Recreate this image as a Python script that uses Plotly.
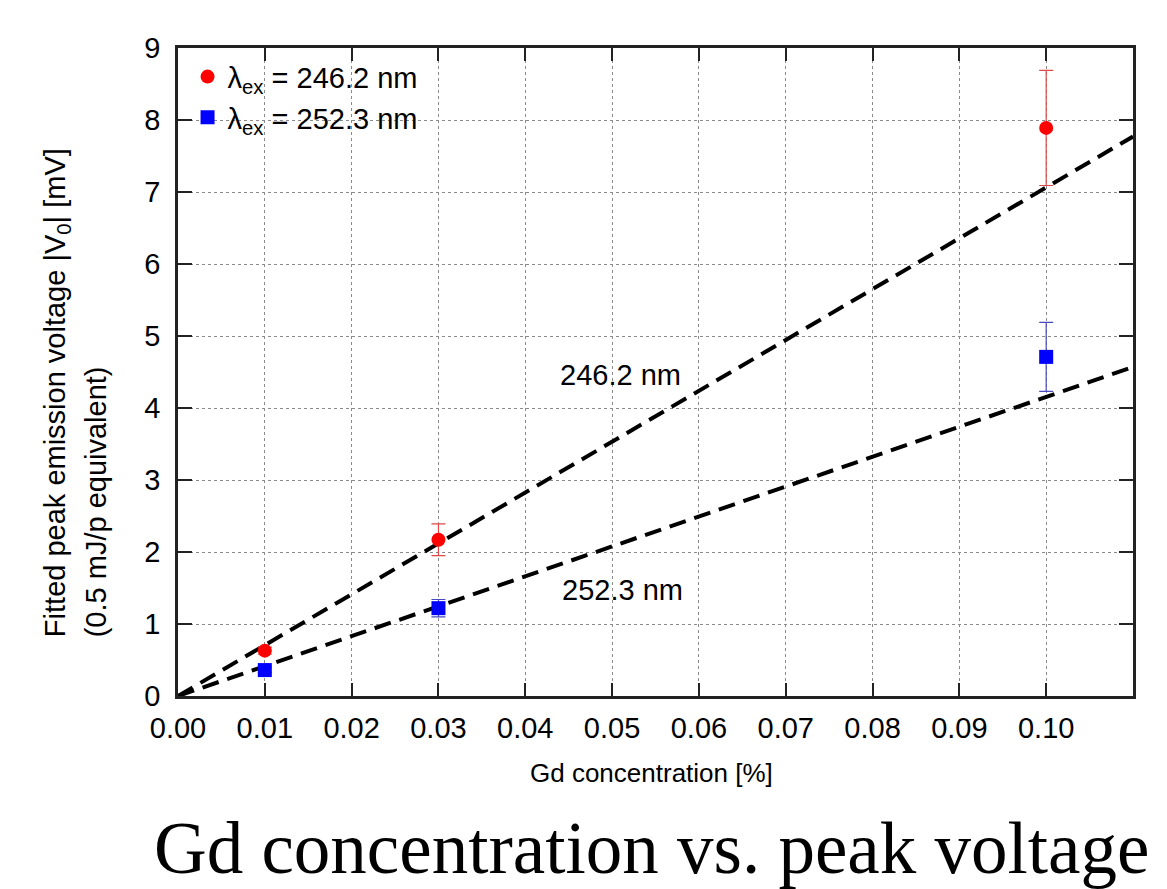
import plotly.graph_objects as go

# Data
conc = [0.01, 0.03, 0.10]
v_246 = [0.63, 2.17, 7.89]
err_246 = [0.05, 0.22, 0.80]
v_252 = [0.36, 1.22, 4.71]
err_252 = [0.04, 0.12, 0.48]

fit_x = [0.0, 0.11]
fit_246 = [0.0, 7.77]
fit_252 = [0.0, 4.57]

x_ticks = [0.00, 0.01, 0.02, 0.03, 0.04, 0.05, 0.06, 0.07, 0.08, 0.09, 0.10]
x_tick_labels = ["0.00", "0.01", "0.02", "0.03", "0.04", "0.05", "0.06", "0.07", "0.08", "0.09", "0.10"]
y_ticks = [0, 1, 2, 3, 4, 5, 6, 7, 8, 9]

FONT = "Liberation Sans, Arial, sans-serif"
SERIF = "Liberation Serif, Times New Roman, serif"

fig = go.Figure()

fig.add_trace(go.Scatter(x=fit_x, y=fit_246, mode="lines", showlegend=False,
                         line=dict(color="black", width=4, dash="17px,9px")))
fig.add_trace(go.Scatter(x=fit_x, y=fit_252, mode="lines", showlegend=False,
                         line=dict(color="black", width=4, dash="17px,9px")))

fig.add_trace(go.Scatter(
    x=conc, y=v_246, mode="markers", name="λ<sub>ex</sub> = 246.2 nm",
    marker=dict(symbol="circle", size=14, color="#ff0000"),
    error_y=dict(type="data", array=err_246, visible=True, color="#e04848", thickness=1.2, width=7)))
fig.add_trace(go.Scatter(
    x=conc, y=v_252, mode="markers", name="λ<sub>ex</sub> = 252.3 nm",
    marker=dict(symbol="square", size=14, color="#0000ff"),
    error_y=dict(type="data", array=err_252, visible=True, color="#4848c0", thickness=1.2, width=7)))

# line labels
fig.add_annotation(x=0.0510, y=4.46, text="246.2 nm", showarrow=False,
                   xref="x", yref="y", font=dict(family=FONT, size=29, color="black"))
fig.add_annotation(x=0.0512, y=1.47, text="252.3 nm", showarrow=False,
                   xref="x", yref="y", font=dict(family=FONT, size=29, color="black"))

# axis titles
fig.add_annotation(x=0.496, y=-0.119, xref="paper", yref="paper", showarrow=False,
                   xanchor="center", yanchor="middle",
                   text="Gd concentration [%]", font=dict(family=FONT, size=26, color="black"))
fig.add_annotation(x=-0.126, y=0.088, xref="paper", yref="paper", showarrow=False,
                   xanchor="center", yanchor="bottom", textangle=-90,
                   text="Fitted peak emission voltage |V<sub>0</sub>| [mV]",
                   font=dict(family=FONT, size=29, color="black"))
fig.add_annotation(x=-0.085, y=0.088, xref="paper", yref="paper", showarrow=False,
                   xanchor="center", yanchor="bottom", textangle=-90,
                   text="(0.5 mJ/p equivalent)",
                   font=dict(family=FONT, size=29, color="black"))

# caption
fig.add_annotation(x=0.4963, y=-0.235, xref="paper", yref="paper", showarrow=False,
                   xanchor="center", yanchor="middle",
                   text="Gd concentration vs. peak voltage",
                   font=dict(family=SERIF, size=73, color="black"))

axis_common = dict(ticks="inside", tickwidth=2, tickcolor="#222",
                   showline=True, linewidth=2.5, linecolor="#222", mirror="allticks",
                   showgrid=True, gridcolor="#8a8a8a", griddash="dot", gridwidth=1.2,
                   zeroline=False,
                   tickfont=dict(family=FONT, size=29, color="black"))

fig.update_xaxes(range=[0, 0.11], tickvals=x_ticks, ticktext=x_tick_labels,
                 ticklen=13, ticklabelstandoff=4, **axis_common)
fig.update_yaxes(range=[0, 9], tickvals=y_ticks,
                 ticklen=14, ticklabelstandoff=9, **axis_common)

fig.update_layout(
    width=1167, height=889,
    margin=dict(l=178, r=34, t=48, b=193),
    plot_bgcolor="white", paper_bgcolor="white",
    showlegend=True,
    legend=dict(x=0.01, y=0.995, xanchor="left", yanchor="top",
                bgcolor="rgba(0,0,0,0)", font=dict(family=FONT, size=29, color="black"),
                tracegroupgap=0, itemsizing="trace"),
)

fig.write_html("out.html")
